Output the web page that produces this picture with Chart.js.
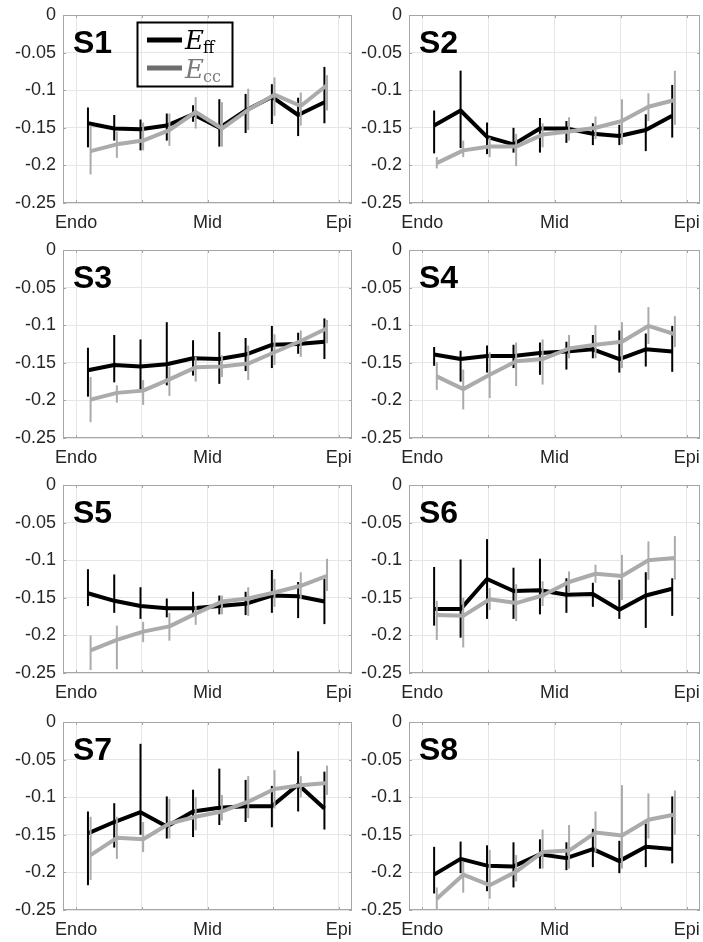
<!DOCTYPE html>
<html><head><meta charset="utf-8">
<script src="https://cdn.jsdelivr.net/npm/chart.js@4/dist/chart.umd.min.js"></script>
<style>
html,body{margin:0;padding:0;background:#fff;}
body{width:703px;height:942px;position:relative;overflow:hidden;}
canvas{position:absolute;}
</style></head><body>
<script>
// ---------- data ----------
const panelNames = ['S1','S2','S3','S4','S5','S6','S7','S8'];
const xTickValues = [0, 0.5, 1, 1.5, 2];
const xTickLabels = ['Endo', '', 'Mid', '', 'Epi'];
const yTickValues = [-0.25, -0.2, -0.15, -0.1, -0.05, 0];
const yTickLabels = ['-0.25', '-0.2', '-0.15', '-0.1', '-0.05', '0'];
const effX = [0.09, 0.29, 0.49, 0.69, 0.89, 1.09, 1.29, 1.49, 1.69, 1.89];
const eccX = [0.11, 0.31, 0.51, 0.71, 0.91, 1.11, 1.31, 1.51, 1.71, 1.91];

const s1Eff   = [-0.144, -0.151, -0.152, -0.147, -0.132, -0.150, -0.127, -0.109, -0.133, -0.116];
const s1EffLo = [-0.176, -0.167, -0.180, -0.167, -0.142, -0.175, -0.157, -0.145, -0.161, -0.144];
const s1EffHi = [-0.123, -0.133, -0.139, -0.131, -0.120, -0.112, -0.105, -0.092, -0.110, -0.069];
const s1Ecc   = [-0.181, -0.172, -0.167, -0.153, -0.129, -0.151, -0.126, -0.106, -0.121, -0.093];
const s1EccLo = [-0.212, -0.190, -0.180, -0.174, -0.151, -0.175, -0.153, -0.134, -0.147, -0.127];
const s1EccHi = [-0.147, -0.155, -0.143, -0.131, -0.109, -0.116, -0.098, -0.083, -0.103, -0.080];

const s2Eff   = [-0.147, -0.127, -0.162, -0.172, -0.151, -0.151, -0.158, -0.161, -0.153, -0.134];
const s2EffLo = [-0.184, -0.177, -0.185, -0.183, -0.183, -0.170, -0.173, -0.173, -0.181, -0.163];
const s2EffHi = [-0.127, -0.074, -0.143, -0.150, -0.137, -0.141, -0.144, -0.146, -0.132, -0.093];
const s2Ecc   = [-0.197, -0.180, -0.175, -0.175, -0.159, -0.155, -0.150, -0.141, -0.122, -0.113];
const s2EccLo = [-0.204, -0.189, -0.189, -0.201, -0.176, -0.167, -0.165, -0.172, -0.141, -0.146];
const s2EccHi = [-0.189, -0.167, -0.163, -0.158, -0.144, -0.136, -0.135, -0.112, -0.104, -0.074];

const s3Eff   = [-0.160, -0.153, -0.155, -0.152, -0.144, -0.145, -0.139, -0.126, -0.125, -0.122];
const s3EffLo = [-0.195, -0.176, -0.189, -0.180, -0.167, -0.178, -0.161, -0.157, -0.138, -0.145];
const s3EffHi = [-0.130, -0.113, -0.119, -0.096, -0.120, -0.109, -0.117, -0.101, -0.110, -0.091];
const s3Ecc   = [-0.199, -0.190, -0.187, -0.172, -0.156, -0.155, -0.151, -0.136, -0.121, -0.104];
const s3EccLo = [-0.229, -0.203, -0.206, -0.194, -0.175, -0.169, -0.173, -0.153, -0.142, -0.124];
const s3EccHi = [-0.169, -0.180, -0.173, -0.155, -0.142, -0.140, -0.127, -0.112, -0.107, -0.093];

const s4Eff   = [-0.139, -0.145, -0.141, -0.141, -0.137, -0.135, -0.132, -0.145, -0.132, -0.135];
const s4EffLo = [-0.154, -0.175, -0.163, -0.157, -0.166, -0.159, -0.144, -0.163, -0.155, -0.162];
const s4EffHi = [-0.129, -0.134, -0.127, -0.126, -0.123, -0.122, -0.113, -0.107, -0.111, -0.101];
const s4Ecc   = [-0.168, -0.185, -0.166, -0.148, -0.145, -0.131, -0.126, -0.122, -0.101, -0.112];
const s4EccLo = [-0.186, -0.212, -0.197, -0.181, -0.179, -0.144, -0.144, -0.157, -0.125, -0.129];
const s4EccHi = [-0.149, -0.159, -0.136, -0.123, -0.119, -0.113, -0.100, -0.096, -0.076, -0.088];

const s5Eff   = [-0.144, -0.154, -0.161, -0.164, -0.164, -0.161, -0.158, -0.147, -0.148, -0.155];
const s5EffLo = [-0.161, -0.170, -0.178, -0.176, -0.170, -0.172, -0.173, -0.170, -0.177, -0.185];
const s5EffHi = [-0.112, -0.119, -0.136, -0.151, -0.142, -0.147, -0.142, -0.113, -0.129, -0.125];
const s5Ecc   = [-0.220, -0.206, -0.195, -0.188, -0.171, -0.155, -0.151, -0.143, -0.134, -0.121];
const s5EccLo = [-0.246, -0.245, -0.209, -0.207, -0.186, -0.172, -0.174, -0.162, -0.152, -0.141];
const s5EccHi = [-0.200, -0.187, -0.182, -0.170, -0.161, -0.147, -0.136, -0.125, -0.116, -0.098];

const s6Eff   = [-0.165, -0.165, -0.125, -0.141, -0.140, -0.146, -0.145, -0.166, -0.147, -0.138];
const s6EffLo = [-0.187, -0.203, -0.178, -0.178, -0.172, -0.170, -0.162, -0.178, -0.190, -0.174];
const s6EffHi = [-0.109, -0.099, -0.072, -0.110, -0.098, -0.124, -0.130, -0.126, -0.116, -0.124];
const s6Ecc   = [-0.173, -0.174, -0.152, -0.157, -0.147, -0.129, -0.118, -0.121, -0.100, -0.097];
const s6EccLo = [-0.206, -0.216, -0.166, -0.181, -0.161, -0.143, -0.130, -0.153, -0.126, -0.126];
const s6EccHi = [-0.154, -0.150, -0.137, -0.132, -0.128, -0.115, -0.106, -0.093, -0.075, -0.068];

const s7Eff   = [-0.148, -0.133, -0.120, -0.139, -0.119, -0.114, -0.112, -0.112, -0.083, -0.115];
const s7EffLo = [-0.217, -0.167, -0.150, -0.155, -0.153, -0.137, -0.133, -0.140, -0.119, -0.143];
const s7EffHi = [-0.119, -0.108, -0.029, -0.099, -0.090, -0.062, -0.077, -0.085, -0.039, -0.066];
const s7Ecc   = [-0.177, -0.154, -0.156, -0.135, -0.126, -0.119, -0.106, -0.089, -0.084, -0.081];
const s7EccLo = [-0.210, -0.182, -0.173, -0.155, -0.144, -0.131, -0.128, -0.115, -0.100, -0.097];
const s7EccHi = [-0.126, -0.126, -0.133, -0.102, -0.100, -0.097, -0.072, -0.064, -0.072, -0.058];

const s8Eff   = [-0.203, -0.182, -0.191, -0.192, -0.176, -0.181, -0.169, -0.185, -0.166, -0.169];
const s8EffLo = [-0.228, -0.201, -0.225, -0.220, -0.195, -0.197, -0.193, -0.201, -0.193, -0.188];
const s8EffHi = [-0.166, -0.159, -0.164, -0.160, -0.156, -0.160, -0.142, -0.158, -0.135, -0.099];
const s8Ecc   = [-0.235, -0.203, -0.217, -0.199, -0.173, -0.171, -0.147, -0.151, -0.130, -0.123];
const s8EccLo = [-0.255, -0.227, -0.235, -0.212, -0.195, -0.195, -0.173, -0.195, -0.155, -0.150];
const s8EccHi = [-0.220, -0.186, -0.170, -0.177, -0.143, -0.137, -0.119, -0.084, -0.095, -0.091];

// ---------- style / layout ----------
const EFF_COLOR = '#000000';
const ECC_COLOR = '#ababab';
const GRID_COLOR = '#e6e6e6';
const BOX_COLOR = '#a6a6a6';
const TEXT_COLOR = '#262626';
const colCanvasLeft = [0, 352];
const colCanvasWidth = [356, 351];
const colPlotLeft = [63, 409];
const colPlotRight = [352, 700];
const rowPlotTop = [15, 250, 485, 722];
const PLOT_H = 188, PAD_TOP = 10, XAXIS_H = 32;

const panelData = [
  [s1Eff, s1EffLo, s1EffHi, s1Ecc, s1EccLo, s1EccHi],
  [s2Eff, s2EffLo, s2EffHi, s2Ecc, s2EccLo, s2EccHi],
  [s3Eff, s3EffLo, s3EffHi, s3Ecc, s3EccLo, s3EccHi],
  [s4Eff, s4EffLo, s4EffHi, s4Ecc, s4EccLo, s4EccHi],
  [s5Eff, s5EffLo, s5EffHi, s5Ecc, s5EccLo, s5EccHi],
  [s6Eff, s6EffLo, s6EffHi, s6Ecc, s6EccLo, s6EccHi],
  [s7Eff, s7EffLo, s7EffHi, s7Ecc, s7EccLo, s7EccHi],
  [s8Eff, s8EffLo, s8EffHi, s8Ecc, s8EccLo, s8EccHi]
];

const errorBarPlugin = {
  id: 'errbars',
  beforeDatasetDraw(chart, args) {
    const ds = chart.data.datasets[args.index];
    if (!ds.errLo) return;
    const {ctx, chartArea: a} = chart;
    const x = chart.scales.x, y = chart.scales.y;
    ctx.save();
    ctx.beginPath(); ctx.rect(a.left, a.top, a.right - a.left, a.bottom - a.top); ctx.clip();
    ctx.strokeStyle = ds.borderColor; ctx.lineWidth = 2; ctx.lineCap = 'butt';
    ds.data.forEach((p, i) => {
      const px = x.getPixelForValue(p.x);
      ctx.beginPath();
      ctx.moveTo(px, y.getPixelForValue(ds.errLo[i]));
      ctx.lineTo(px, y.getPixelForValue(ds.errHi[i]));
      ctx.stroke();
    });
    ctx.restore();
  }
};

const boxPlugin = {
  id: 'box',
  beforeDatasetsDraw(chart) {
    const {ctx, chartArea: a} = chart;
    const x = chart.scales.x, y = chart.scales.y;
    ctx.save();
    ctx.strokeStyle = BOX_COLOR; ctx.lineWidth = 1;
    ctx.strokeRect(Math.round(a.left) + 0.5, Math.round(a.top) + 0.5,
                   Math.round(a.right - a.left) - 1, Math.round(a.bottom - a.top) - 1);
    ctx.beginPath();
    xTickValues.forEach(v => {
      const px = Math.round(x.getPixelForValue(v)) + 0.5;
      ctx.moveTo(px, a.bottom); ctx.lineTo(px, a.bottom - 3);
      ctx.moveTo(px, a.top); ctx.lineTo(px, a.top + 3);
    });
    yTickValues.forEach(v => {
      const py = Math.round(y.getPixelForValue(v)) + 0.5;
      ctx.moveTo(a.left, py); ctx.lineTo(a.left + 3, py);
      ctx.moveTo(a.right, py); ctx.lineTo(a.right - 3, py);
    });
    ctx.stroke();
    ctx.restore();
  }
};

const labelPlugin = {
  id: 'panelLabel',
  afterDraw(chart, args, opts) {
    const {ctx, chartArea: a} = chart;
    ctx.save();
    ctx.fillStyle = '#000';
    ctx.font = 'bold 32px "Liberation Sans", Arial, sans-serif';
    ctx.textBaseline = 'alphabetic';
    ctx.fillText(opts.text, a.left + 10, a.top + 38);
    if (opts.legend) {
      const lx = a.left + 74, ly = a.top + 7;
      ctx.strokeStyle = '#000'; ctx.lineWidth = 2;
      ctx.strokeRect(lx + 0.5, ly + 0.5, 95, 64);
      ctx.lineWidth = 5; ctx.lineCap = 'butt';
      ctx.strokeStyle = EFF_COLOR;
      ctx.beginPath(); ctx.moveTo(lx + 10, ly + 18); ctx.lineTo(lx + 45, ly + 18); ctx.stroke();
      ctx.strokeStyle = '#6e6e6e';
      ctx.beginPath(); ctx.moveTo(lx + 10, ly + 46); ctx.lineTo(lx + 45, ly + 46); ctx.stroke();
      const entries = [['ff', '#000', ly + 27], ['cc', '#7a7a7a', ly + 56]];
      entries.forEach(([sub, col, base]) => {
        ctx.fillStyle = col;
        ctx.font = 'italic 26px "DejaVu Serif", "Liberation Serif", serif';
        ctx.fillText('E', lx + 48, base);
        const w = ctx.measureText('E').width;
        ctx.font = '16px "DejaVu Serif", "Liberation Serif", serif';
        ctx.fillText(sub, lx + 48 + w - 1, base + 4);
      });
    }
    ctx.restore();
  }
};

panelNames.forEach((name, i) => {
  const col = i % 2, row = Math.floor(i / 2);
  const cv = document.createElement('canvas');
  const cw = colCanvasWidth[col], ch = PAD_TOP + PLOT_H + XAXIS_H;
  cv.width = cw; cv.height = ch;
  cv.style.left = colCanvasLeft[col] + 'px';
  cv.style.top = (rowPlotTop[row] - PAD_TOP) + 'px';
  cv.style.width = cw + 'px'; cv.style.height = ch + 'px';
  document.body.appendChild(cv);
  const [eff, effLo, effHi, ecc, eccLo, eccHi] = panelData[i];
  const yW = colPlotLeft[col] - colCanvasLeft[col];
  const padRight = colCanvasLeft[col] + cw - colPlotRight[col];
  new Chart(cv.getContext('2d'), {
    type: 'line',
    data: {
      datasets: [
        { label: 'E_ff', data: effX.map((x, k) => ({x, y: eff[k]})), errLo: effLo, errHi: effHi,
          borderColor: EFF_COLOR, borderWidth: 4, pointRadius: 0, tension: 0,
          borderJoinStyle: 'round', order: 2, clip: false },
        { label: 'E_cc', data: eccX.map((x, k) => ({x, y: ecc[k]})), errLo: eccLo, errHi: eccHi,
          borderColor: ECC_COLOR, borderWidth: 4, pointRadius: 0, tension: 0,
          borderJoinStyle: 'round', order: 1, clip: false }
      ]
    },
    options: {
      responsive: false, animation: false, devicePixelRatio: 1,
      layout: { padding: { top: PAD_TOP, left: 0, right: padRight, bottom: 0 } },
      plugins: {
        legend: { display: false }, tooltip: { enabled: false },
        panelLabel: { text: name, legend: i === 0 }
      },
      scales: {
        x: {
          type: 'linear', min: -0.1, max: 2.1,
          afterBuildTicks: s => { s.ticks = xTickValues.map(v => ({value: v})); },
          afterFit: s => { s.height = XAXIS_H; s.paddingLeft = 0; s.paddingRight = 0; },
          ticks: { autoSkip: false, maxRotation: 0, padding: 9, color: TEXT_COLOR,
                   font: { family: '"Liberation Sans", Arial, sans-serif', size: 18 },
                   callback: (v, idx) => xTickLabels[idx] },
          grid: { color: GRID_COLOR, drawTicks: false, lineWidth: 1 },
          border: { display: false }
        },
        y: {
          type: 'linear', min: -0.25, max: 0,
          afterBuildTicks: s => { s.ticks = yTickValues.map(v => ({value: v})); },
          afterFit: s => { s.width = yW; s.paddingTop = 0; s.paddingBottom = 0; },
          ticks: { autoSkip: false, padding: 7, color: TEXT_COLOR,
                   font: { family: '"Liberation Sans", Arial, sans-serif', size: 18 },
                   callback: (v, idx) => yTickLabels[idx] },
          grid: { color: GRID_COLOR, drawTicks: false, lineWidth: 1 },
          border: { display: false }
        }
      }
    },
    plugins: [boxPlugin, errorBarPlugin, labelPlugin]
  });
});
</script>
</body></html>
